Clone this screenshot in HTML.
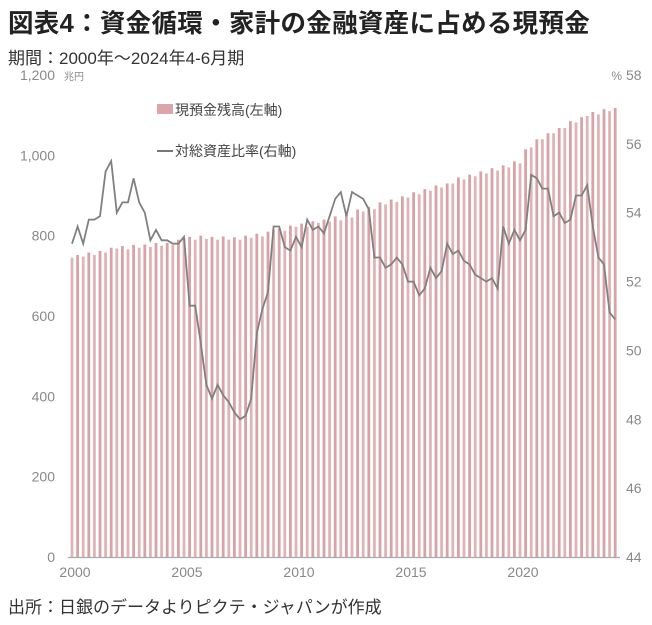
<!DOCTYPE html>
<html><head><meta charset="utf-8">
<style>
html,body{margin:0;padding:0;background:#fff;}
body{width:652px;height:625px;overflow:hidden;position:relative;font-family:"Liberation Sans","Noto Sans CJK JP",sans-serif;}
.t{position:absolute;white-space:nowrap;}
</style></head>
<body>
<div class="t" style="left:8px;top:3px;font-size:25.5px;font-weight:bold;color:#222;letter-spacing:0.3px;">図表4：資金循環・家計の金融資産に占める現預金</div>
<div class="t" style="left:8px;top:44px;font-size:17px;color:#333;">期間：2000年～2024年4-6月期</div>
<div class="t" style="left:8px;top:593px;font-size:17px;color:#333;">出所：日銀のデータよりピクテ・ジャパンが作成</div>
<svg id="chart" width="652" height="625" style="position:absolute;left:0;top:0;"></svg>
<script>
const categories = [];
for (let y = 2000; y <= 2024; y++) for (let q = 1; q <= 4; q++) { if (y === 2024 && q > 2) break; categories.push(y + "Q" + q); }
const depositValues = [
745,752,748,758, 752,762,758,770, 768,774,766,777, 770,778,772,782, 775,782,777,790,
793,797,790,800, 792,797,790,798, 790,796,790,800, 795,805,798,810, 815,818,812,825,
822,830,822,836, 832,840,835,848, 838,852,845,865, 860,872,866,883, 878,890,884,898,
895,908,903,916, 912,925,920,930, 930,945,940,952, 948,960,955,968, 962,975,970,985,
980,1015,1020,1040, 1040,1055,1055,1068, 1068,1085,1082,1095, 1098,1108,1102,1115, 1110,1118];
const ratioValues = [
53.1,53.6,53.1,53.8, 53.8,53.9,55.2,55.5, 54.0,54.3,54.3,55.0, 54.3,54.0,53.2,53.5, 53.2,53.2,53.1,53.1,
53.3,51.3,51.3,50.2, 49.0,48.6,49.0,48.7, 48.5,48.2,48.0,48.1, 48.6,50.5,51.2,51.7, 53.6,53.6,53.0,52.9,
53.3,53.0,53.8,53.5, 53.6,53.4,53.9,54.4, 54.6,53.9,54.6,54.5, 54.4,54.1,52.7,52.7, 52.4,52.5,52.7,52.5,
52.0,52.0,51.6,51.8, 52.4,52.1,52.3,53.1, 52.8,52.9,52.6,52.5, 52.2,52.1,52.0,52.1, 51.8,53.6,53.1,53.5,
53.2,53.5,55.1,55.0, 54.7,54.7,53.9,54.0, 53.7,53.8,54.5,54.5, 54.8,53.6,52.7,52.5, 51.1,50.9];
const leftTicks = [0,200,400,600,800,1000,1200];
const leftTickLabels = ["0","200","400","600","800","1,000","1,200"];
const rightTicks = [44,46,48,50,52,54,56,58];
const xTickYears = [2000,2005,2010,2015,2020];

const svg = document.getElementById('chart');
const NS = "http://www.w3.org/2000/svg";
const yL = v => 557 - v * (482 / 1200);
const yR = v => 557 - (v - 44) * (482 / 14);
const xI = i => 72 + i * 5.6;
function mk(tag, attrs){ const e=document.createElementNS(NS,tag); for(const k in attrs) e.setAttribute(k,attrs[k]); svg.appendChild(e); return e; }

depositValues.forEach((v,i)=>{
  const r = mk('rect',{x:xI(i)-1.4,y:yL(v),width:2.8,height:557-yL(v),fill:(i%2?'#d8a2a6':'#e0b3b6')});
  
  
});
const ax = mk('line',{x1:68,x2:620,y1:557.5,y2:557.5,stroke:'#aaa','stroke-width':1.2});



const pts = ratioValues.map((v,i)=>xI(i).toFixed(1)+','+yR(v).toFixed(1)).join(' ');
const pl = mk('polyline',{points:pts,fill:'none',stroke:'#808080','stroke-width':1.8});



function txt(x,y,s,anchor,size){ const t=mk('text',{x:x,y:y,'text-anchor':anchor,'font-size':size||14,fill:'#888','font-family':'"Liberation Sans Narrow","Liberation Sans","Noto Sans CJK JP",sans-serif'}); t.textContent=s; return t; }
leftTicks.forEach((v,i)=>{ const t=txt(55,yL(v)+5,leftTickLabels[i],'end');
  
   });
rightTicks.forEach(v=>{ const t=txt(626,yR(v)+5,String(v),'start');
  
   });
xTickYears.forEach(y=>{ const t=txt(xI((y-2000)*4)+3,577,String(y),'middle');
  
   });
const u1=txt(64,80,'兆円','start',10);


const u2=txt(622,80,'%','end',12);



const lr = mk('rect',{x:157,y:104,width:16,height:10,fill:'#dba6a9'});


const l1=mk('text',{x:175,y:115,'font-size':14,fill:'#444','font-family':'"Liberation Sans","Noto Sans CJK JP",sans-serif'}); l1.textContent='現預金残高(左軸)';


const ll = mk('line',{x1:157,x2:173,y1:151,y2:151,stroke:'#777','stroke-width':2});


const l2=mk('text',{x:175,y:156,'font-size':14,fill:'#444','font-family':'"Liberation Sans","Noto Sans CJK JP",sans-serif'}); l2.textContent='対総資産比率(右軸)';


</script>
</body></html>
